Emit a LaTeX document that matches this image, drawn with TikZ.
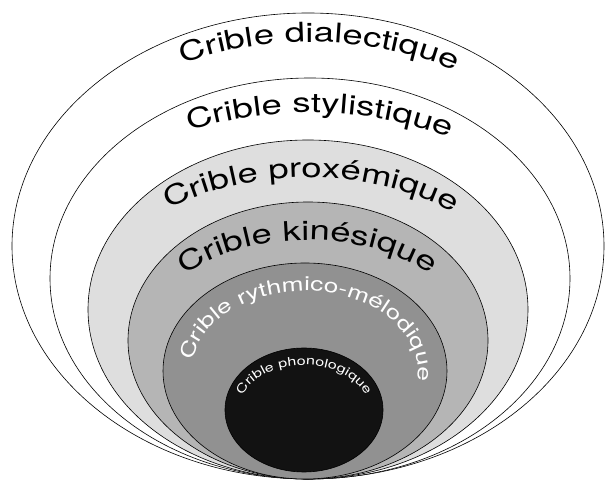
\documentclass[tikz,border=0pt]{standalone}
\usepackage{fontspec}
\usetikzlibrary{shapes.geometric,decorations.text}
\newfontfamily\criblefont[FakeStretch=1.35]{TeX Gyre Heros}
\newcommand{\largecrible}{\criblefont\fontsize{27}{27}\selectfont}
\newcommand{\widecrible}{\criblefont\fontsize{27}{27}\selectfont}
\newcommand{\midcrible}{\criblefont\fontsize{19.5}{19.5}\selectfont\color{white}}
\newcommand{\smallcrible}{\criblefont\fontsize{12}{12}\selectfont\color{white}}
\definecolor{proxgray}{gray}{0.87}
\definecolor{kinegray}{gray}{0.71}
\definecolor{rythgray}{gray}{0.57}
\definecolor{phongray}{gray}{0.07}

\begin{document}
\begin{tikzpicture}[
        x=1pt, y=1pt,
        crible/.style={ellipse, draw, line width=0.6pt, inner sep=0pt},
        label arc/.style={decorate, decoration={text along path, text align=center, text={#1}}},
    ]
        \useasboundingbox (0,0) rectangle (606,482);

        % Nested sieves, outer to inner
        \node[crible, fill=white, minimum width=592pt, minimum height=466pt] (dialectique) at (308,236) {};
        \node[crible, fill=white, minimum width=520pt, minimum height=401pt] (stylistique) at (310,203.5) {};
        \node[crible, fill=proxgray, minimum width=440pt, minimum height=339pt] (proxemique) at (308,172.5) {};
        \node[crible, fill=kinegray, minimum width=360pt, minimum height=277pt] (kinesique) at (308,141.5) {};
        \node[crible, fill=rythgray, minimum width=284pt, minimum height=216pt] (rythmique) at (305,111) {};
        \node[crible, fill=phongray, minimum width=158pt, minimum height=124pt] (phonologique) at (304,72) {};

        % Labels along the bands
        \path[label arc={|\largecrible|Crible dialectique}] (dialectique.center) ++(2,0) ++(128:285pt and 204pt)
            arc[start angle=128, end angle=47.7, x radius=285pt, y radius=204pt];
        \path[label arc={|\largecrible|Crible stylistique}] (stylistique.center) ++(128:263pt and 166pt)
            arc[start angle=128, end angle=47, x radius=263pt, y radius=166pt];
        \path[label arc={|\widecrible|Crible proxémique}] (proxemique.center) ++(140:215pt and 132pt)
            arc[start angle=140, end angle=37.6, x radius=215pt, y radius=132pt];
        \path[label arc={|\widecrible|Crible kinésique}] (kinesique.center) ++(152:163pt and 100.5pt)
            arc[start angle=152, end angle=28.6, x radius=163pt, y radius=100.5pt];
        \path[label arc={|\midcrible|Crible rythmico-mélodique}] (rythmique.center) ++(185:113pt and 80pt)
            arc[start angle=185, end angle=-19, x radius=113pt, y radius=80pt];
        \path[label arc={|\smallcrible|Crible phonologique}] (phonologique.center) ++(175:65pt and 45pt)
            arc[start angle=175, end angle=5, x radius=65pt, y radius=45pt];

    \end{tikzpicture}
\end{document}
